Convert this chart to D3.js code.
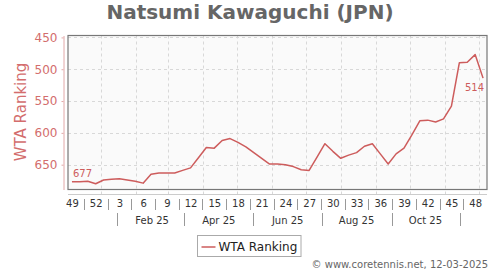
<!DOCTYPE html>
<html>
<head>
<meta charset="utf-8">
<script src="https://cdn.jsdelivr.net/npm/d3@7"></script>
<style>
  body { margin: 0; background: #fff; }
  svg { display: block; font-family: "DejaVu Sans", Verdana, sans-serif; }
</style>
</head>
<body>
<div class="graph__canvas"></div>
<script>
/* Data */
// ISO week numbers, one ranking per week (week 49 2024 .. week 49 2025)
var weeks = [49, 50, 51, 52, 1, 2, 3, 4, 5, 6, 7, 8, 9, 10, 11, 12, 13, 14, 15, 16,
  17, 18, 19, 20, 21, 22, 23, 24, 25, 26, 27, 28, 29, 30, 31, 32, 33, 34, 35, 36,
  37, 38, 39, 40, 41, 42, 43, 44, 45, 46, 47, 48, 49];
var rankings = [677, 677, 676, 680, 674, 673, 672, 674, 676, 679, 665, 663, 663, 663,
  659, 655, 639, 623, 624, 612, 609, 615, 622, 631, 640, 649, 649, 650, 653, 658,
  659, 638, 617, 629, 640, 635, 631, 621, 617, 633, 649, 633, 624, 603, 581, 580,
  583, 578, 558, 490, 489, 477, 514];
var firstWeekDate = "2024-12-06";
var yTicks = [450, 500, 550, 600, 650];
var monthLabels = ["Feb 25", "Apr 25", "Jun 25", "Aug 25", "Oct 25"];
var monthLabelDates = ["2025-02-15", "2025-04-15", "2025-06-15", "2025-08-15", "2025-10-15"];
var title = "Natsumi Kawaguchi (JPN)";
var seriesName = "WTA Ranking";
var credit = "\u00a9 www.coretennis.net, 12-03-2025";

//Configuration of the drawing
var width = 500, height = 270;
var plot = { left: 68, right: 487, top: 35.5, bottom: 189.5 };
var lineColor = "#cd5c5c";
var axisColor = "#d36d6d";

var parse = d3.utcParse("%Y-%m-%d");
var start = parse(firstWeekDate);
var dates = weeks.map(function(w, i) { return d3.utcWeek.offset(start, i); });

//Scales
var x = d3.scaleUtc()
    .domain([d3.utcHour.offset(dates[0], -84), d3.utcHour.offset(dates[dates.length - 1], 84)])
    .range([plot.left, plot.right]);

var y = d3.scaleLinear()
    .domain([447, 689])
    .range([plot.top, plot.bottom]);

var svg = d3.select(".graph__canvas")
    .append("svg")
        .attr("width", width)
        .attr("height", height);

//Title
svg.append("text")
    .attr("x", 250)
    .attr("y", 19)
    .attr("text-anchor", "middle")
    .style("font-size", "20px")
    .style("font-weight", "bold")
    .style("fill", "#666")
    .text(title);

//Plot background
svg.append("rect")
    .attr("x", plot.left)
    .attr("y", plot.top)
    .attr("width", plot.right - plot.left)
    .attr("height", plot.bottom - plot.top)
    .style("fill", "#fafafa");

//Grid lines: months vertically, ticks horizontally
var monthStarts = d3.utcMonth.range(d3.utcMonth.ceil(x.domain()[0]), x.domain()[1]);
svg.append("g").selectAll("line")
    .data(monthStarts)
    .join("line")
        .attr("x1", function(d) { return Math.round(x(d)) + 0.5; })
        .attr("x2", function(d) { return Math.round(x(d)) + 0.5; })
        .attr("y1", plot.top)
        .attr("y2", plot.bottom + 8)
        .style("stroke", "#d8d8d8")
        .style("stroke-dasharray", "3,3");

svg.append("g").selectAll("line")
    .data(yTicks)
    .join("line")
        .attr("x1", plot.left)
        .attr("x2", plot.right)
        .attr("y1", function(d) { return Math.round(y(d)) + 0.5; })
        .attr("y2", function(d) { return Math.round(y(d)) + 0.5; })
        .style("stroke", "#d8d8d8")
        .style("stroke-dasharray", "3,3");

//Plot frame
svg.append("rect")
    .attr("x", plot.left)
    .attr("y", plot.top)
    .attr("width", plot.right - plot.left)
    .attr("height", plot.bottom - plot.top)
    .style("fill", "none")
    .style("stroke", "#777")
    .style("stroke-width", 1.2);

//Y axis
var yAxis = svg.append("g")
    .attr("transform", "translate(63.5, 0)")
    .call(d3.axisLeft(y).tickValues(yTicks).tickSizeInner(2).tickSizeOuter(0).tickPadding(4));
yAxis.select(".domain").style("stroke", "#e2a8a8");
yAxis.selectAll(".tick line").style("stroke", "#e2a8a8");
yAxis.selectAll(".tick text")
    .style("font-size", "12px")
    .style("font-family", "DejaVu Sans")
    .style("fill", axisColor);

svg.append("text")
    .attr("transform", "translate(26, 112) rotate(-90)")
    .attr("text-anchor", "middle")
    .style("font-size", "15px")
    .style("fill", axisColor)
    .text(seriesName);

//X axis line
svg.append("line")
    .attr("x1", plot.left)
    .attr("x2", plot.right)
    .attr("y1", 194.5)
    .attr("y2", 194.5)
    .style("stroke", "#ccc");

//Week labels, every third week, with separators between them
var labelIdx = weeks.map(function(w, i) { return i; }).filter(function(i) { return i % 3 === 0 && i < weeks.length - 1; });
var weekAxis = svg.append("g")
    .attr("transform", "translate(0, 197)")
    .call(d3.axisBottom(x)
        .tickValues(labelIdx.map(function(i) { return dates[i]; }))
        .tickFormat(function(d, k) { return weeks[labelIdx[k]]; })
        .tickSize(0)
        .tickPadding(3));
weekAxis.select(".domain").remove();
weekAxis.selectAll(".tick text")
    .style("font-size", "10px")
    .style("font-family", "DejaVu Sans")
    .style("fill", "#333");

var weekSeps = d3.pairs(labelIdx).map(function(p) {
    return new Date((dates[p[0]].getTime() + dates[p[1]].getTime()) / 2);
});
svg.append("g").selectAll("line")
    .data(weekSeps)
    .join("line")
        .attr("x1", function(d) { return Math.round(x(d)) + 0.5; })
        .attr("x2", function(d) { return Math.round(x(d)) + 0.5; })
        .attr("y1", 199)
        .attr("y2", 210)
        .style("stroke", "#999");

//Month labels with separators half way between them
var monthDates = monthLabelDates.map(parse);
svg.append("g").selectAll("text")
    .data(monthDates)
    .join("text")
        .attr("x", function(d) { return x(d); })
        .attr("y", 224)
        .attr("text-anchor", "middle")
        .style("font-size", "10px")
        .style("fill", "#333")
        .text(function(d, i) { return monthLabels[i]; });

var monthSeps = [d3.utcMonth.offset(monthDates[0], -1)].concat(monthDates.map(function(d) {
    return d3.utcMonth.offset(d, 1);
}));
svg.append("g").selectAll("line")
    .data(monthSeps)
    .join("line")
        .attr("x1", function(d) { return Math.round(x(d)) + 0.5; })
        .attr("x2", function(d) { return Math.round(x(d)) + 0.5; })
        .attr("y1", 213)
        .attr("y2", 226)
        .style("stroke", "#999");

//The ranking line
var line = d3.line()
    .x(function(d, i) { return x(dates[i]); })
    .y(function(d) { return y(d); });

svg.append("path")
    .datum(rankings)
    .attr("d", line)
    .style("fill", "none")
    .style("stroke", lineColor)
    .style("stroke-width", 1.5)
    .style("stroke-linejoin", "round");

//First and last values
var last = rankings.length - 1;
svg.append("text")
    .attr("x", x(dates[0]) + 1)
    .attr("y", y(rankings[0]) - 5)
    .style("font-size", "10px")
    .style("fill", lineColor)
    .text(rankings[0]);

svg.append("text")
    .attr("x", x(dates[last]) + 1)
    .attr("y", y(rankings[last]) + 12.5)
    .attr("text-anchor", "end")
    .style("font-size", "10px")
    .style("fill", lineColor)
    .text(rankings[last]);

//Legend
var legend = svg.append("g").attr("transform", "translate(197.5, 235.5)");
legend.append("rect")
    .attr("width", 103.5)
    .attr("height", 21)
    .style("fill", "#fff")
    .style("stroke", "#aaa");
legend.append("line")
    .attr("x1", 4)
    .attr("x2", 18)
    .attr("y1", 11.5)
    .attr("y2", 11.5)
    .style("stroke", lineColor)
    .style("stroke-width", 1.5);
legend.append("text")
    .attr("x", 21)
    .attr("y", 15.5)
    .style("font-size", "12px")
    .style("fill", "#222")
    .text(seriesName);

//Credit line
svg.append("text")
    .attr("x", 488)
    .attr("y", 268)
    .attr("text-anchor", "end")
    .style("font-size", "10px")
    .style("fill", "#666")
    .text(credit);
</script>
</body>
</html>
